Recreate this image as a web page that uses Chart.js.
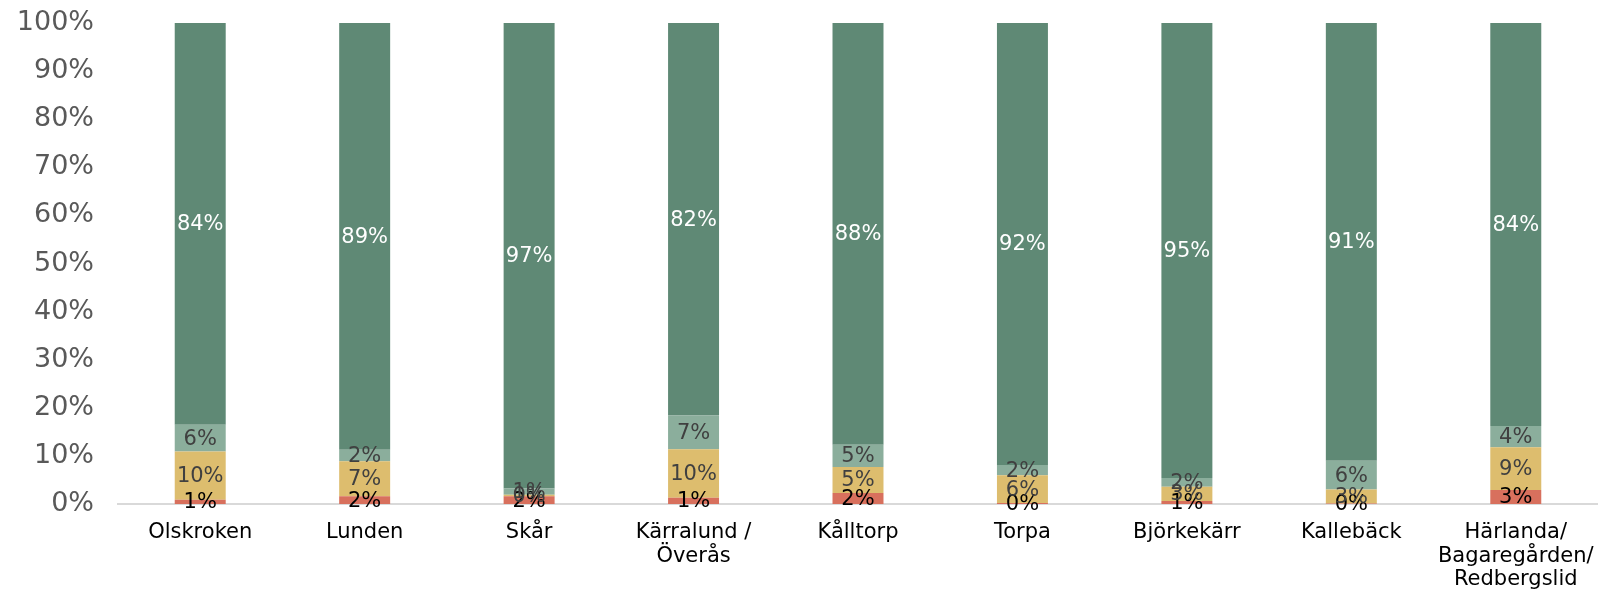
<!DOCTYPE html>
<html>
<head>
<meta charset="utf-8">
<script src="https://cdn.jsdelivr.net/npm/chart.js@4/dist/chart.umd.min.js"></script>
<style>
html,body{margin:0;padding:0;background:#fff;}
#wrap{width:1598px;height:596px;position:relative;}
</style>
</head>
<body>
<div id="wrap"><canvas id="c" width="1598" height="596"></canvas></div>
<script>
const categories = [
  "Olskroken", ["Lunden"], "Skår", ["Kärralund /", "Överås"], "Kålltorp", "Torpa",
  "Björkekärr", "Kallebäck", ["Härlanda/", "Bagaregården/", "Redbergslid"]
];
const seriesNames = ["Röd", "Gul", "Ljusgrön", "Mörkgrön"];
const redValues       = [0.9, 1.6, 1.6, 1.3, 2.3, 0.2, 0.6, 0.1, 2.9];
const yellowValues    = [10.0, 7.3, 0.3, 10.1, 5.4, 5.8, 3.0, 2.9, 8.9];
const lightGreenValues= [5.6, 2.4, 1.3, 7.0, 4.6, 2.1, 1.8, 6.0, 4.4];
const darkGreenValues = [83.5, 88.7, 96.8, 81.6, 87.7, 91.9, 94.6, 91.0, 83.8];
const yTicks = [0, 10, 20, 30, 40, 50, 60, 70, 80, 90, 100];

const colors = ["#D8705D", "#DDBD6E", "#8BAE9C", "#5F8975"];
const labelColors = ["#000000", "#404040", "#404040", "#FFFFFF"];
const allValues = [redValues, yellowValues, lightGreenValues, darkGreenValues];

const labelPlugin = {
  id: 'segLabels',
  afterDatasetsDraw(chart) {
    const ctx = chart.ctx;
    ctx.save();
    ctx.font = '21px "DejaVu Sans"';
    ctx.textAlign = 'center';
    ctx.textBaseline = 'middle';
    chart.data.datasets.forEach((ds, di) => {
      const meta = chart.getDatasetMeta(di);
      meta.data.forEach((bar, i) => {
        const v = ds.data[i];
        const txt = Math.round(v) + '%';
        const yc = (bar.y + bar.base) / 2;
        ctx.fillStyle = labelColors[di];
        ctx.fillText(txt, bar.x, yc + 1);
      });
    });
    ctx.restore();
  }
};

new Chart(document.getElementById('c'), {
  type: 'bar',
  data: {
    labels: categories,
    datasets: allValues.map((vals, i) => ({
      label: seriesNames[i],
      data: vals,
      backgroundColor: colors[i],
      borderWidth: 0,
      categoryPercentage: 1,
      barPercentage: 0.31
    }))
  },
  options: {
    responsive: false,
    animation: false,
    devicePixelRatio: 1,
    layout: { padding: { left: 19, right: 0, top: 23, bottom: 6 } },
    plugins: { legend: { display: false }, tooltip: { enabled: false } },
    scales: {
      x: {
        stacked: true,
        grid: { display: false, drawTicks: false },
        border: { display: true, color: '#D9D9D9', width: 2 },
        afterFit(scale) { scale.height = 86; scale.paddingLeft = 0; scale.paddingRight = 0; },
        ticks: {
          color: '#000000',
          font: { family: 'DejaVu Sans', size: 21, lineHeight: 1.12 },
          padding: 17,
          maxRotation: 0,
          autoSkip: false
        }
      },
      y: {
        stacked: true,
        min: 0, max: 100,
        grid: { display: false, drawTicks: false },
        border: { display: false },
        afterBuildTicks(axis) { axis.ticks = yTicks.map(v => ({ value: v })); },
        afterFit(scale) { scale.width = 99; scale.paddingTop = 0; scale.paddingBottom = 0; },
        ticks: {
          color: '#595959',
          font: { family: 'DejaVu Sans', size: 27 },
          padding: 24,
          callback: v => v + '%'
        }
      }
    }
  },
  plugins: [labelPlugin]
});
</script>
</body>
</html>
